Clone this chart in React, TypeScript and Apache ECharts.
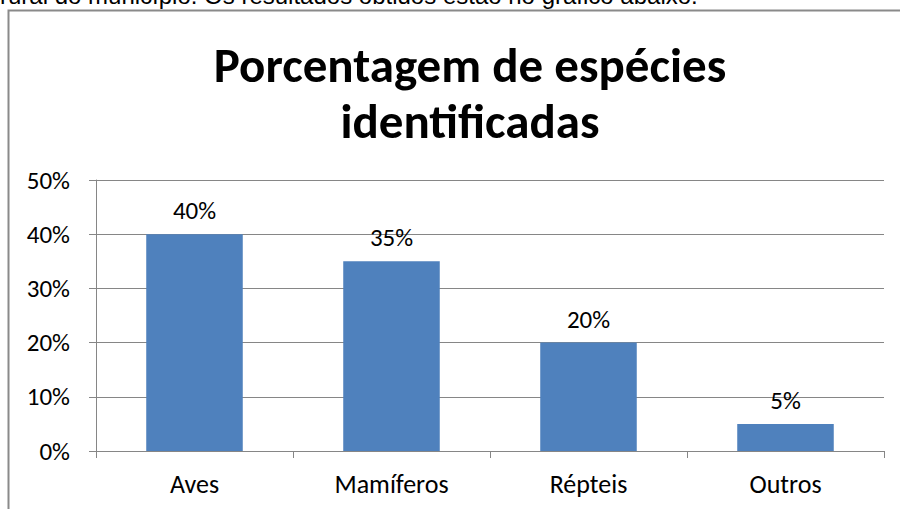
import React, { useEffect, useRef } from "react";
import * as echarts from "echarts";

const categories = ["Aves", "Mamíferos", "Répteis", "Outros"];
const values = [40, 35, 20, 5];
const yTicks = [0, 10, 20, 30, 40, 50];
const titleText = "Porcentagem de espécies\nidentificadas";
const topText = "rural do município. Os resultados obtidos estão no gráfico abaixo.";

const FONT = "Carlito, Lato, 'Open Sans', sans-serif";

export default function App() {
  const ref = useRef<HTMLDivElement>(null);
  useEffect(() => {
    const chart = echarts.init(ref.current!, null, { renderer: "svg" });
    chart.setOption({
      animation: false,
      backgroundColor: "#ffffff",
      title: {
        text: titleText,
        left: 465,
        textAlign: "center",
        top: 32,
        textStyle: { fontFamily: FONT, fontSize: 49, fontWeight: "bold", color: "#000", lineHeight: 56 },
      },
      graphic: [
        {
          type: "text",
          left: 0,
          top: -17,
          style: { text: topText, font: "24px 'Liberation Sans', Arial, sans-serif", fill: "#000" },
        },
        {
          type: "rect",
          shape: { x: 8.5, y: 10.5, width: 1000, height: 1000 },
          style: { fill: "none", stroke: "#8a8a8a", lineWidth: 2 },
          silent: true,
        },
      ],
      grid: { left: 96, top: 180, right: 16, bottom: 58 },
      xAxis: {
        type: "category",
        data: categories,
        axisLine: { lineStyle: { color: "#868686", width: 1 } },
        axisTick: { show: true, alignWithLabel: false, length: 7, lineStyle: { color: "#868686" } },
        axisLabel: { fontFamily: FONT, fontSize: 26, color: "#000", margin: 20 },
      },
      yAxis: {
        type: "value",
        min: 0,
        max: 50,
        interval: 10,
        axisLine: { show: true, lineStyle: { color: "#868686", width: 1 } },
        axisTick: { show: true, length: 7, lineStyle: { color: "#868686" } },
        splitLine: { lineStyle: { color: "#868686", width: 1 } },
        axisLabel: {
          fontFamily: FONT,
          fontSize: 25,
          color: "#000",
          margin: 26,
          formatter: (v: number) => (yTicks.includes(v) ? v + "%" : ""),
        },
      },
      series: [
        {
          type: "bar",
          data: values,
          barWidth: "49%",
          itemStyle: { color: "#4F81BD" },
          label: {
            show: true,
            position: "top",
            distance: 11,
            formatter: (p: any) => p.value + "%",
            fontFamily: FONT,
            fontSize: 25,
            color: "#000",
          },
        },
      ],
    });
    return () => chart.dispose();
  }, []);
  return (
    <div style={{ position: "fixed", left: 0, top: 0, width: 900, height: 509, background: "#fff" }}>
      <div ref={ref} style={{ width: 900, height: 509 }} />
    </div>
  );
}
